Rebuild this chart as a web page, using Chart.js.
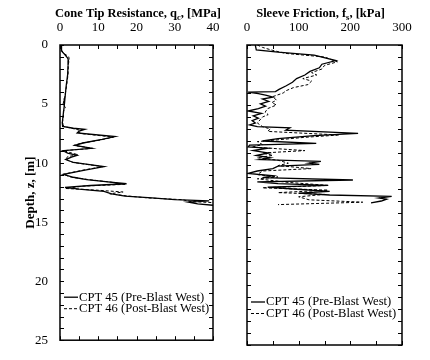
<!DOCTYPE html>
<html>
<head>
<meta charset="utf-8">
<script src="https://cdn.jsdelivr.net/npm/chart.js@4.4.1/dist/chart.umd.min.js"></script>
<style>
  body { margin: 0; background: #fff; }
  #wrap { position: relative; width: 430px; height: 360px; }
  #qcBox { position: absolute; left: 0; top: 0; width: 230px; height: 360px; }
  #fsBox { position: absolute; left: 230px; top: 0; width: 200px; height: 360px; }
</style>
</head>
<body>
<div id="wrap">
  <div id="qcBox"><canvas id="qcChart"></canvas></div>
  <div id="fsBox"><canvas id="fsChart"></canvas></div>
</div>
<script>
const seriesLabels = ["CPT 45 (Pre-Blast West)", "CPT 46 (Post-Blast West)"];
const qcTitle = [["Cone Tip Resistance, q", false], ["c", true], [", [MPa]", false]];
const fsTitle = [["Sleeve Friction, f", false], ["s", true], [", [kPa]", false]];
const depthTitle = "Depth, z, [m]";

// cone tip resistance (MPa) against depth (m)
const qcDepth45 = [0, 0.5, 0.8, 1.1, 1.3, 1.7, 2.5, 3.5, 4.5, 5.2, 6.0, 6.6, 6.9, 7.05, 7.15, 7.3, 7.45, 7.75, 8.0, 8.3,
  8.5, 8.75, 8.95, 9.15, 9.35, 9.5, 9.7, 9.95, 10.3, 10.6, 10.95, 11.2, 11.4, 11.6, 11.75, 11.9, 12.05, 12.2, 12.4, 12.6,
  12.8, 12.95, 13.1, 13.2, 13.3, 13.45, 13.6];
const qc45 = [0.3, 0.4, 1.2, 2.0, 2.2, 2.1, 2.0, 1.6, 1.3, 1.1, 0.8, 0.6, 0.7, 3.5, 6.5, 5.0, 4.5, 14.4, 11.0, 6.0,
  3.9, 8.3, 0.8, 2.0, 4.5, 3.0, 1.5, 3.5, 11.5, 6.5, 0.9, 3.5, 7.0, 12.5, 17.4, 8.0, 1.3, 5.0, 11.5, 13.5,
  17.0, 24.0, 30.0, 39.0, 33.5, 36.0, 41.0];
const qcDepth46 = [0, 0.4, 0.7, 1.0, 1.25, 1.6, 2.5, 3.5, 4.5, 5.0, 5.3, 5.6, 6.0, 6.6, 6.9, 7.05, 7.2, 7.35, 7.5, 7.8,
  8.05, 8.3, 8.5, 8.75, 8.95, 9.1, 9.3, 9.45, 9.7, 9.95, 10.3, 10.6, 10.95, 11.2, 11.4, 11.6, 11.8, 11.95, 12.15, 12.3,
  12.45, 12.6, 12.8, 12.95, 13.1, 13.25, 13.35];
const qc46 = [0.2, 0.3, 1.0, 2.3, 2.4, 2.2, 2.1, 1.7, 1.2, 0.8, 1.4, 0.9, 0.9, 0.6, 1.0, 3.0, 5.0, 4.7, 5.5, 14.0,
  10.5, 5.8, 3.6, 8.5, 1.0, 2.5, 4.8, 2.0, 1.5, 3.5, 11.2, 6.0, 0.8, 3.0, 7.5, 13.0, 17.0, 6.0, 1.5, 10.0,
  16.5, 13.0, 18.0, 23.0, 32.0, 34.0, 40.0];

// sleeve friction (kPa) against depth (m)
const fsDepth45 = [0, 0.4, 0.6, 0.85, 1.3, 1.6, 1.9, 2.2, 2.5, 2.8, 3.1, 3.4, 3.7, 3.88, 3.92, 4.05, 4.2, 4.35, 4.5, 4.7,
  4.9, 5.1, 5.3, 5.5, 5.7, 5.9, 6.1, 6.3, 6.5, 6.65, 6.8, 6.9, 7.1, 7.36, 7.55, 7.8, 8.0, 8.2, 8.35, 8.5,
  8.6, 8.8, 9.0, 9.2, 9.4, 9.55, 9.7, 9.85, 9.95, 10.1, 10.3, 10.5, 10.7, 10.9, 11.05, 11.25, 11.4, 11.55, 11.7, 11.85,
  12.0, 12.2, 12.35, 12.5, 12.62, 12.75, 12.85, 13.0, 13.15];
const fs45 = [16, 18, 60, 130, 172, 145, 140, 122, 112, 96, 88, 76, 62, 55, 2, 22, 38, 50, 30, 42,
  26, 36, 22, 2, 28, 12, 22, 10, 16, 5, 20, 83, 75, 215, 130, 60, 30, 134, 5, 2,
  40, 12, 42, 18, 45, 25, 143, 120, 140, 60, 50, 20, 2, 50, 30, 205, 20, 60, 157, 40,
  90, 160, 100, 160, 280, 255, 270, 260, 240];
const fsDepth46 = [0, 0.2, 0.45, 0.7, 1.0, 1.4, 1.7, 2.0, 2.3, 2.5, 2.8, 3.0, 3.3, 3.55, 3.8, 4.0, 4.3, 4.6, 4.8, 5.0,
  5.3, 5.6, 5.8, 6.0, 6.25, 6.5, 6.8, 7.0, 7.2, 7.5, 7.7, 7.9, 8.05, 8.3, 8.5, 8.8, 9.0, 9.2, 9.4, 9.6,
  9.85, 10.05, 10.3, 10.5, 10.8, 11.0, 11.15, 11.45, 11.7, 11.9, 12.1, 12.3, 12.45, 12.65, 12.9, 13.1, 13.3];
const fs46 = [20, 30, 50, 75, 150, 175, 150, 145, 125, 135, 108, 125, 118, 90, 76, 70, 50, 57, 48, 57,
  40, 35, 41, 30, 25, 20, 30, 45, 40, 178, 110, 60, 20, 30, 10, 112, 30, 50, 20, 60,
  80, 60, 124, 30, 20, 60, 20, 80, 157, 30, 157, 60, 150, 100, 120, 224, 60];

const serif = '"Liberation Serif", "Times New Roman", serif';
Chart.defaults.font.family = serif;
Chart.defaults.color = '#000';

function profile(depths, values) {
  return depths.map((d, i) => ({ x: values[i], y: d }));
}

// frame with inward ticks on all four sides
const frameTicks = {
  id: 'frameTicks',
  afterDatasetsDraw(chart, args, opts) {
    const { ctx, chartArea: ca, scales: { x, y } } = chart;
    ctx.save();
    ctx.strokeStyle = '#000';
    ctx.lineWidth = 1;
    ctx.beginPath();
    for (let v = x.min; v <= x.max + 1e-6; v += opts.xStep) {
      const px = Math.round(x.getPixelForValue(v)) + 0.5;
      ctx.moveTo(px, ca.top); ctx.lineTo(px, ca.top + 4);
      ctx.moveTo(px, ca.bottom); ctx.lineTo(px, ca.bottom - 4);
    }
    for (let v = y.min; v <= y.max + 1e-6; v += opts.yStep) {
      const py = Math.round(y.getPixelForValue(v)) + 0.5;
      ctx.moveTo(ca.left, py); ctx.lineTo(ca.left + 4, py);
      ctx.moveTo(ca.right, py); ctx.lineTo(ca.right - 4, py);
    }
    ctx.stroke();
    ctx.lineWidth = 1.5;
    ctx.strokeRect(ca.left, ca.top, ca.right - ca.left, ca.bottom - ca.top);
    ctx.restore();
  }
};

// bold title with a subscript letter
const subTitle = {
  id: 'subTitle',
  afterDraw(chart, args, opts) {
    const { ctx, chartArea: ca } = chart;
    const big = 'bold 12.5px ' + serif, small = 'bold 8.5px ' + serif;
    ctx.save();
    ctx.fillStyle = '#000';
    ctx.textBaseline = 'alphabetic';
    let w = 0;
    opts.parts.forEach(([t, sub]) => { ctx.font = sub ? small : big; w += ctx.measureText(t).width; });
    let x = (ca.left + ca.right) / 2 - w / 2 + (opts.shift || 0);
    opts.parts.forEach(([t, sub]) => {
      ctx.font = sub ? small : big;
      ctx.fillText(t, x, sub ? 20 : 17);
      x += ctx.measureText(t).width;
    });
    ctx.restore();
  }
};

// legend inside the plot, lower left
const innerLegend = {
  id: 'innerLegend',
  afterDraw(chart) {
    const { ctx, chartArea: ca } = chart;
    ctx.save();
    ctx.font = '12.6px ' + serif;
    ctx.textBaseline = 'middle';
    ctx.fillStyle = '#000';
    chart.data.datasets.forEach((ds, i) => {
      const y = ca.bottom - 43 + i * 11.5;
      ctx.strokeStyle = '#000';
      ctx.lineWidth = ds.borderWidth;
      ctx.setLineDash(ds.borderDash || []);
      ctx.beginPath();
      ctx.moveTo(ca.left + 4, y); ctx.lineTo(ca.left + 18, y);
      ctx.stroke();
      ctx.setLineDash([]);
      ctx.fillText(ds.label, ca.left + 19, y);
    });
    ctx.restore();
  }
};

function makeChart(id, d45, v45, d46, v46, xMax, xStep, xMinor, title, leftWidth, padRight, showDepth, shift) {
  return new Chart(id, {
    type: 'scatter',
    data: {
      datasets: [{
        label: seriesLabels[0],
        data: profile(d45, v45),
        showLine: true,
        borderColor: '#000',
        borderWidth: 1.3,
        pointRadius: 0,
        tension: 0
      }, {
        label: seriesLabels[1],
        data: profile(d46, v46),
        showLine: true,
        borderColor: '#000',
        borderWidth: 1,
        borderDash: [3, 2],
        pointRadius: 0,
        tension: 0
      }]
    },
    options: {
      responsive: true,
      maintainAspectRatio: false,
      animation: false,
      layout: { padding: { left: 0, right: padRight, top: 0, bottom: 15 } },
      plugins: {
        legend: { display: false },
        tooltip: { enabled: false },
        subTitle: { parts: title, shift: shift },
        frameTicks: { xStep: xMinor, yStep: 1 }
      },
      scales: {
        x: {
          type: 'linear',
          position: 'top',
          min: 0,
          max: xMax,
          grid: { display: false, drawTicks: false },
          border: { display: false },
          ticks: { stepSize: xStep, padding: 10, font: { size: 13 } },
          afterFit: (s) => { s.height = 45; }
        },
        y: {
          type: 'linear',
          position: 'left',
          reverse: true,
          min: 0,
          max: 25,
          grid: { display: false, drawTicks: false },
          border: { display: false },
          ticks: { display: showDepth, stepSize: 5, padding: 12, font: { size: 13 } },
          title: {
            display: showDepth,
            text: depthTitle,
            font: { size: 13, weight: 'bold' },
            padding: { top: 23, bottom: 0 }
          },
          afterFit: (s) => { s.width = leftWidth; }
        }
      }
    },
    plugins: [frameTicks, subTitle, innerLegend]
  });
}

makeChart('qcChart', qcDepth45, qc45, qcDepth46, qc46, 40, 10, 5, qcTitle, 60, 17, true, 1.5);
makeChart('fsChart', fsDepth45, fs45, fsDepth46, fs46, 300, 100, 50, fsTitle, 17, 28, false, -4);
</script>
</body>
</html>
